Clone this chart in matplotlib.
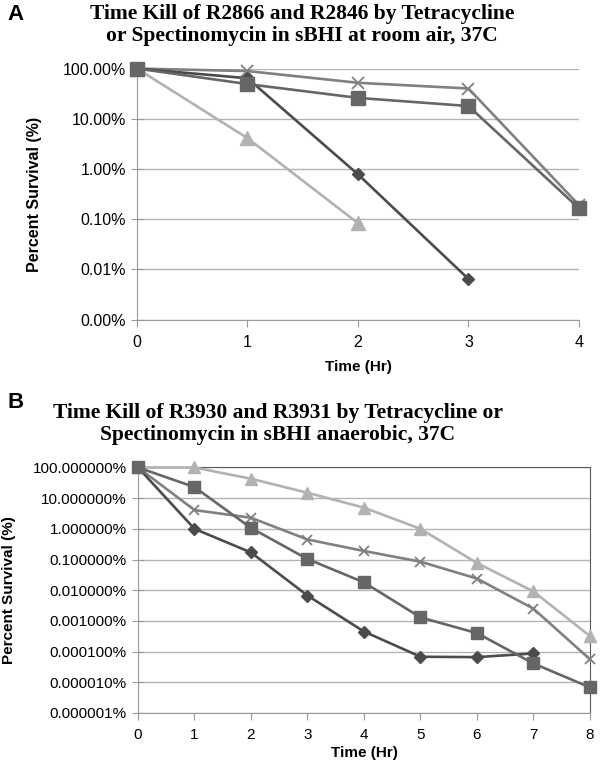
import matplotlib
matplotlib.use("Agg")
import matplotlib.pyplot as plt

# Panel A: room air, 0-4 h
hours_a = [0, 1, 2, 3, 4]
diamond_a = [100, 64, 0.78, 0.0064]
square_a = [100, 49, 26, 17.9, 0.164]
cross_a = [100, 89, 52, 40, 0.19]
triangle_a = [100, 4.1, 0.083]
yticks_a = [100, 10, 1, 0.1, 0.01, 0.001]
ylabels_a = ["100.00%", "10.00%", "1.00%", "0.10%", "0.01%", "0.00%"]

# Panel B: anaerobic, 0-8 h
hours_b = [0, 1, 2, 3, 4, 5, 6, 7, 8]
diamond_b = [100, 1.0, 0.17, 0.0067, 0.00045, 0.000068, 0.000066, 0.000087]
square_b = [100, 23, 1.07, 0.104, 0.018, 0.0013, 0.0004, 0.000041, 0.0000068]
cross_b = [100, 4.1, 2.3, 0.45, 0.19, 0.085, 0.024, 0.0025, 0.000056]
triangle_b = [100, 100, 43, 15, 4.9, 1.0, 0.077, 0.0091, 0.00032]
yticks_b = [100, 10, 1, 0.1, 0.01, 0.001, 0.0001, 0.00001, 0.000001]
ylabels_b = ["100.000000%", "10.000000%", "1.000000%", "0.100000%", "0.010000%",
             "0.001000%", "0.000100%", "0.000010%", "0.000001%"]

plt.rcParams['font.family'] = ['Liberation Sans', 'DejaVu Sans']

c_diamond = '#4b4b4b'
c_square = '#666666'
c_cross = '#808080'
c_triangle = '#b2b2b2'
grid_c = '#b4b4b4'

fig = plt.figure(figsize=(6, 7.64), dpi=100)


def draw_panel(ax, hours, diamond, square, cross, triangle, yticks, ylabels, ms_scale, fs):
    ax.plot(hours[:len(triangle)], triangle, color=c_triangle, lw=1.9, marker='^',
            ms=9.5 * ms_scale, zorder=3)
    ax.plot(hours[:len(cross)], cross, color=c_cross, lw=1.9, marker='x',
            ms=8.5 * ms_scale, mew=1.3, zorder=4)
    ax.plot(hours[:len(diamond)], diamond, color=c_diamond, lw=1.9, marker='D',
            ms=6.5 * ms_scale, zorder=5)
    ax.plot(hours[:len(square)], square, color=c_square, lw=1.9, marker='s',
            ms=9.5 * ms_scale, zorder=6)
    ax.set_yscale('log')
    ax.set_ylim(yticks[-1], yticks[0])
    ax.set_xlim(hours[0], hours[-1])
    ax.set_yticks(yticks)
    ax.set_yticklabels(ylabels)
    ax.minorticks_off()
    ax.set_xticks(hours)
    ax.grid(axis='y', color=grid_c, lw=1)
    ax.set_axisbelow(True)
    for s in ['left', 'bottom']:
        ax.spines[s].set_color('#9a9a9a')
    ax.tick_params(axis='both', colors='#9a9a9a', labelcolor='black', labelsize=fs)
    ax.tick_params(axis='x', direction='out', length=5, pad=6)
    ax.tick_params(axis='y', direction='inout', length=8, pad=4)
    ax.set_xlabel('Time (Hr)', fontweight='bold', fontsize=11)
    for line in ax.lines:
        line.set_clip_on(False)


ax_a = fig.add_axes([0.2283, 0.5818, 0.7367, 0.3285])
draw_panel(ax_a, hours_a, diamond_a, square_a, cross_a, triangle_a, yticks_a, ylabels_a, 1.0, 11.5)
ax_a.spines['top'].set_visible(False)
ax_a.spines['right'].set_visible(False)
ax_a.set_ylabel('Percent Survival (%)', fontweight='bold', fontsize=11.5)
ax_a.yaxis.set_label_coords(-0.215, 0.5)
ax_a.xaxis.set_label_coords(0.5, -0.161)

ax_b = fig.add_axes([0.23, 0.0668, 0.7533, 0.3213])
draw_panel(ax_b, hours_b, diamond_b, square_b, cross_b, triangle_b, yticks_b, ylabels_b, 0.9, 11)
ax_b.spines['top'].set_color('#5a5a5a')
ax_b.spines['right'].set_color('#5a5a5a')
ax_b.set_ylabel('Percent Survival (%)', fontweight='bold', fontsize=11)
ax_b.yaxis.set_label_coords(-0.27, 0.5)
ax_b.xaxis.set_label_coords(0.5, -0.134)

title_font = dict(family=['Liberation Serif', 'DejaVu Serif'], fontweight='bold',
                  fontsize=15.5, ha='center', va='center', linespacing=1.1)
fig.text(302 / 600, 1 - 25 / 764,
         'Time Kill of R2866 and R2846 by Tetracycline\nor Spectinomycin in sBHI at room air, 37C',
         **title_font)
fig.text(278 / 600, 1 - 424 / 764,
         'Time Kill of R3930 and R3931 by Tetracycline or\nSpectinomycin in sBHI anaerobic, 37C',
         **title_font)
fig.text(16 / 600, 1 - 15 / 764, 'A', fontweight='bold', fontsize=16, ha='center', va='center')
fig.text(16 / 600, 1 - 403 / 764, 'B', fontweight='bold', fontsize=16, ha='center', va='center')

fig.savefig('out.png', dpi=100)
